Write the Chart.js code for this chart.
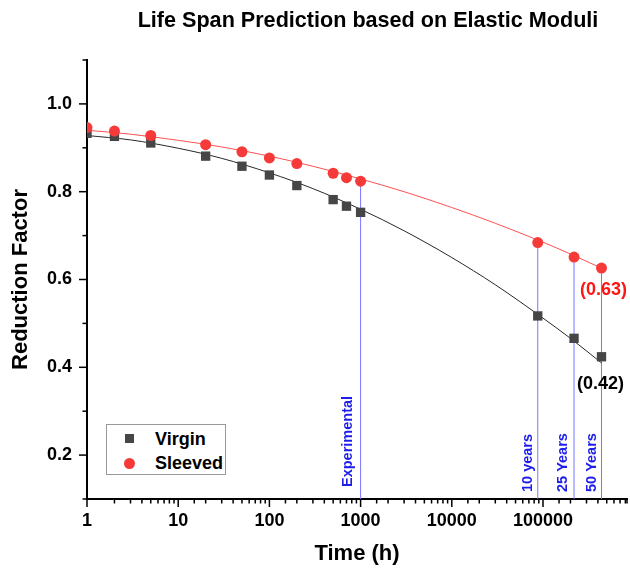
<!DOCTYPE html>
<html>
<head>
<meta charset="utf-8">
<script src="https://cdn.jsdelivr.net/npm/chart.js@4/dist/chart.umd.min.js"></script>
<style>
  html, body { margin: 0; padding: 0; background: #fff; }
  #wrap { position: relative; width: 630px; height: 571px; }
  #legend { position: absolute; left: 106px; top: 424px; width: 118px; height: 49px; border: 1px solid #999; background: #fff;
            font-family: 'Liberation Sans', Arial, sans-serif; font-weight: bold; font-size: 18px; color: #000; }
  .item { position: absolute; left: 0; height: 22px; line-height: 22px; }
  .mk { position: absolute; }
  .lbl { position: absolute; left: 48px; top: 0; white-space: nowrap; }
</style>
</head>
<body>
<div id="wrap">
  <canvas id="c" width="630" height="571"></canvas>
  <div id="legend">
    <div class="item" style="top:3px;"><span class="mk" style="left:18px;top:6px;width:9px;height:9px;background:rgb(70,70,70);"></span><span class="lbl">Virgin</span></div>
    <div class="item" style="top:27px;"><span class="mk" style="left:17px;top:6px;width:11px;height:11px;border-radius:50%;background:rgb(246,58,58);"></span><span class="lbl">Sleeved</span></div>
  </div>
</div>
<script>
// ---- data ----
const times = [1, 2, 5, 20, 50, 100, 200, 500, 700, 1000, 87600, 219000, 438000];
const virgin = [0.933, 0.926, 0.911, 0.881, 0.858, 0.838, 0.814, 0.782, 0.767, 0.753, 0.517, 0.466, 0.424];
const sleeved = [0.946, 0.938, 0.928, 0.907, 0.891, 0.877, 0.864, 0.842, 0.832, 0.824, 0.684, 0.651, 0.626];

const fitTimes = [1, 3, 10, 30, 100, 300, 1000, 3000, 10000, 30000, 100000, 200000, 438000];
const virginFit = [0.928, 0.918, 0.899, 0.876, 0.843, 0.807, 0.760, 0.711, 0.650, 0.588, 0.512, 0.466, 0.410];
const sleevedFit = [0.940, 0.931, 0.917, 0.902, 0.881, 0.858, 0.829, 0.800, 0.764, 0.728, 0.685, 0.658, 0.626];

const markerTimes = [1000, 87600, 219000, 438000];
const markerLabels = ['Experimental', '10 years', '25 Years', '50 Years'];

const xTickValues = [1, 10, 100, 1000, 10000, 100000];
const yTickLabels = ['0.2', '0.4', '0.6', '0.8', '1.0'];

const titleText = 'Life Span Prediction based on Elastic Moduli';
const xTitle = 'Time (h)';
const yTitle = 'Reduction Factor';

// ---- build ----
const FONT = "'Liberation Sans', Arial, sans-serif";
Chart.defaults.font.family = FONT;

const toXY = (xs, ys) => xs.map((t, i) => ({ x: t, y: ys[i] }));
const sleevedAt = t => sleeved[times.indexOf(t)];
const yMin = 0.1, yMax = 1.1;
const xMin = 1, xMax = 834000;

const isPow10 = v => xTickValues.includes(v);
const yMajor = v => yTickLabels.includes(v.toFixed(1)) && Math.abs(Math.round(v * 10) - v * 10) < 1e-6;

const markerSets = markerTimes.map(t => ({
  type: 'line',
  data: [{ x: t, y: yMin }, { x: t, y: sleevedAt(t) }],
  borderColor: 'rgb(120,120,255)', borderWidth: 1, pointRadius: 0, order: 10
}));

const decor = {
  id: 'decor',
  afterDraw(chart) {
    const { ctx, scales: { x, y }, chartArea: a } = chart;
    ctx.save();
    // tick marks
    ctx.strokeStyle = '#000'; ctx.lineWidth = 1.5;
    x.ticks.forEach(t => {
      const px = x.getPixelForValue(t.value);
      if (px < a.left - 1 || px > a.right + 1) return;
      const len = isPow10(t.value) ? 8 : 4.5;
      ctx.beginPath(); ctx.moveTo(px, a.bottom); ctx.lineTo(px, a.bottom + len); ctx.stroke();
    });
    y.ticks.forEach(t => {
      const py = y.getPixelForValue(t.value);
      const len = yMajor(t.value) ? 8 : 4.5;
      ctx.beginPath(); ctx.moveTo(a.left, py); ctx.lineTo(a.left - len, py); ctx.stroke();
    });
    // title
    ctx.fillStyle = '#000';
    ctx.font = 'bold 21.6px ' + FONT;
    ctx.textAlign = 'center'; ctx.textBaseline = 'middle';
    ctx.fillText(titleText, 368, 21);
    // vertical marker labels
    ctx.fillStyle = 'rgb(30,30,235)';
    ctx.font = 'bold 14.5px ' + FONT;
    const bottoms = [12, 7, 7, 7];
    const shifts = [9, 6, 7, 5];
    markerTimes.forEach((t, i) => {
      const px = x.getPixelForValue(t);
      ctx.save();
      ctx.translate(px - shifts[i], a.bottom - bottoms[i]);
      ctx.rotate(-Math.PI / 2);
      ctx.textAlign = 'left'; ctx.textBaseline = 'alphabetic';
      ctx.fillText(markerLabels[i], 0, 0);
      ctx.restore();
    });
    // end value labels
    ctx.font = 'bold 18px ' + FONT;
    ctx.textAlign = 'center'; ctx.textBaseline = 'middle';
    const last = times.length - 1;
    const lx = x.getPixelForValue(times[last]);
    ctx.fillStyle = 'rgb(255,20,20)';
    ctx.fillText('(' + sleeved[last].toFixed(2) + ')', lx + 2, y.getPixelForValue(sleeved[last]) + 22);
    ctx.fillStyle = '#000';
    ctx.fillText('(' + virgin[last].toFixed(2) + ')', lx - 1, y.getPixelForValue(virgin[last]) + 27);
    ctx.restore();
  }
};

const pointClip = { left: 0, top: false, right: false, bottom: false };

new Chart(document.getElementById('c'), {
  type: 'scatter',
  data: {
    datasets: [
      { label: 'Sleeved', data: toXY(times, sleeved), pointStyle: 'circle', pointRadius: 5.5,
        backgroundColor: 'rgb(246,58,58)', borderWidth: 0, showLine: false, order: 0, clip: pointClip },
      { label: 'Virgin', data: toXY(times, virgin), pointStyle: 'rect', pointRadius: 6.6,
        backgroundColor: 'rgb(70,70,70)', borderWidth: 0, showLine: false, order: 1, clip: pointClip },
      { type: 'line', label: 'Sleeved fit', data: toXY(fitTimes, sleevedFit), borderColor: 'rgb(255,80,80)',
        borderWidth: 1, pointRadius: 0, cubicInterpolationMode: 'monotone', order: 5 },
      { type: 'line', label: 'Virgin fit', data: toXY(fitTimes, virginFit), borderColor: 'rgb(40,40,40)',
        borderWidth: 1, pointRadius: 0, cubicInterpolationMode: 'monotone', order: 6 },
      ...markerSets
    ]
  },
  options: {
    responsive: false,
    animation: false,
    events: [],
    layout: { autoPadding: false, padding: { top: 60, right: 0, left: 0, bottom: 0 } },
    plugins: { legend: { display: false }, tooltip: { enabled: false }, title: { display: false } },
    scales: {
      x: {
        type: 'logarithmic', min: xMin, max: xMax,
        afterFit: s => { s.height = 72; },
        border: { display: true, color: '#000', width: 2 },
        grid: { drawOnChartArea: false, drawTicks: true, tickLength: 8, tickColor: 'rgba(0,0,0,0)' },
        ticks: { autoSkip: false, maxRotation: 0, padding: 3, color: '#000',
                 font: { size: 18, weight: 'bold' },
                 callback: v => isPow10(v) ? String(v) : '' },
        title: { display: true, text: xTitle, color: '#000', font: { size: 22, weight: 'bold' },
                 padding: { top: 4, bottom: 4 } }
      },
      y: {
        type: 'linear', min: yMin, max: yMax,
        afterFit: s => { s.width = 87; },
        border: { display: true, color: '#000', width: 2 },
        grid: { drawOnChartArea: false, drawTicks: true, tickLength: 8, tickColor: 'rgba(0,0,0,0)' },
        ticks: { stepSize: 0.1, padding: 7, color: '#000', font: { size: 18, weight: 'bold' },
                 callback: v => yMajor(v) ? v.toFixed(1) : '' },
        title: { display: true, text: yTitle, color: '#000', font: { size: 22, weight: 'bold' },
                 padding: { top: 8, bottom: 0 } }
      }
    }
  },
  plugins: [decor]
});
</script>
</body>
</html>
